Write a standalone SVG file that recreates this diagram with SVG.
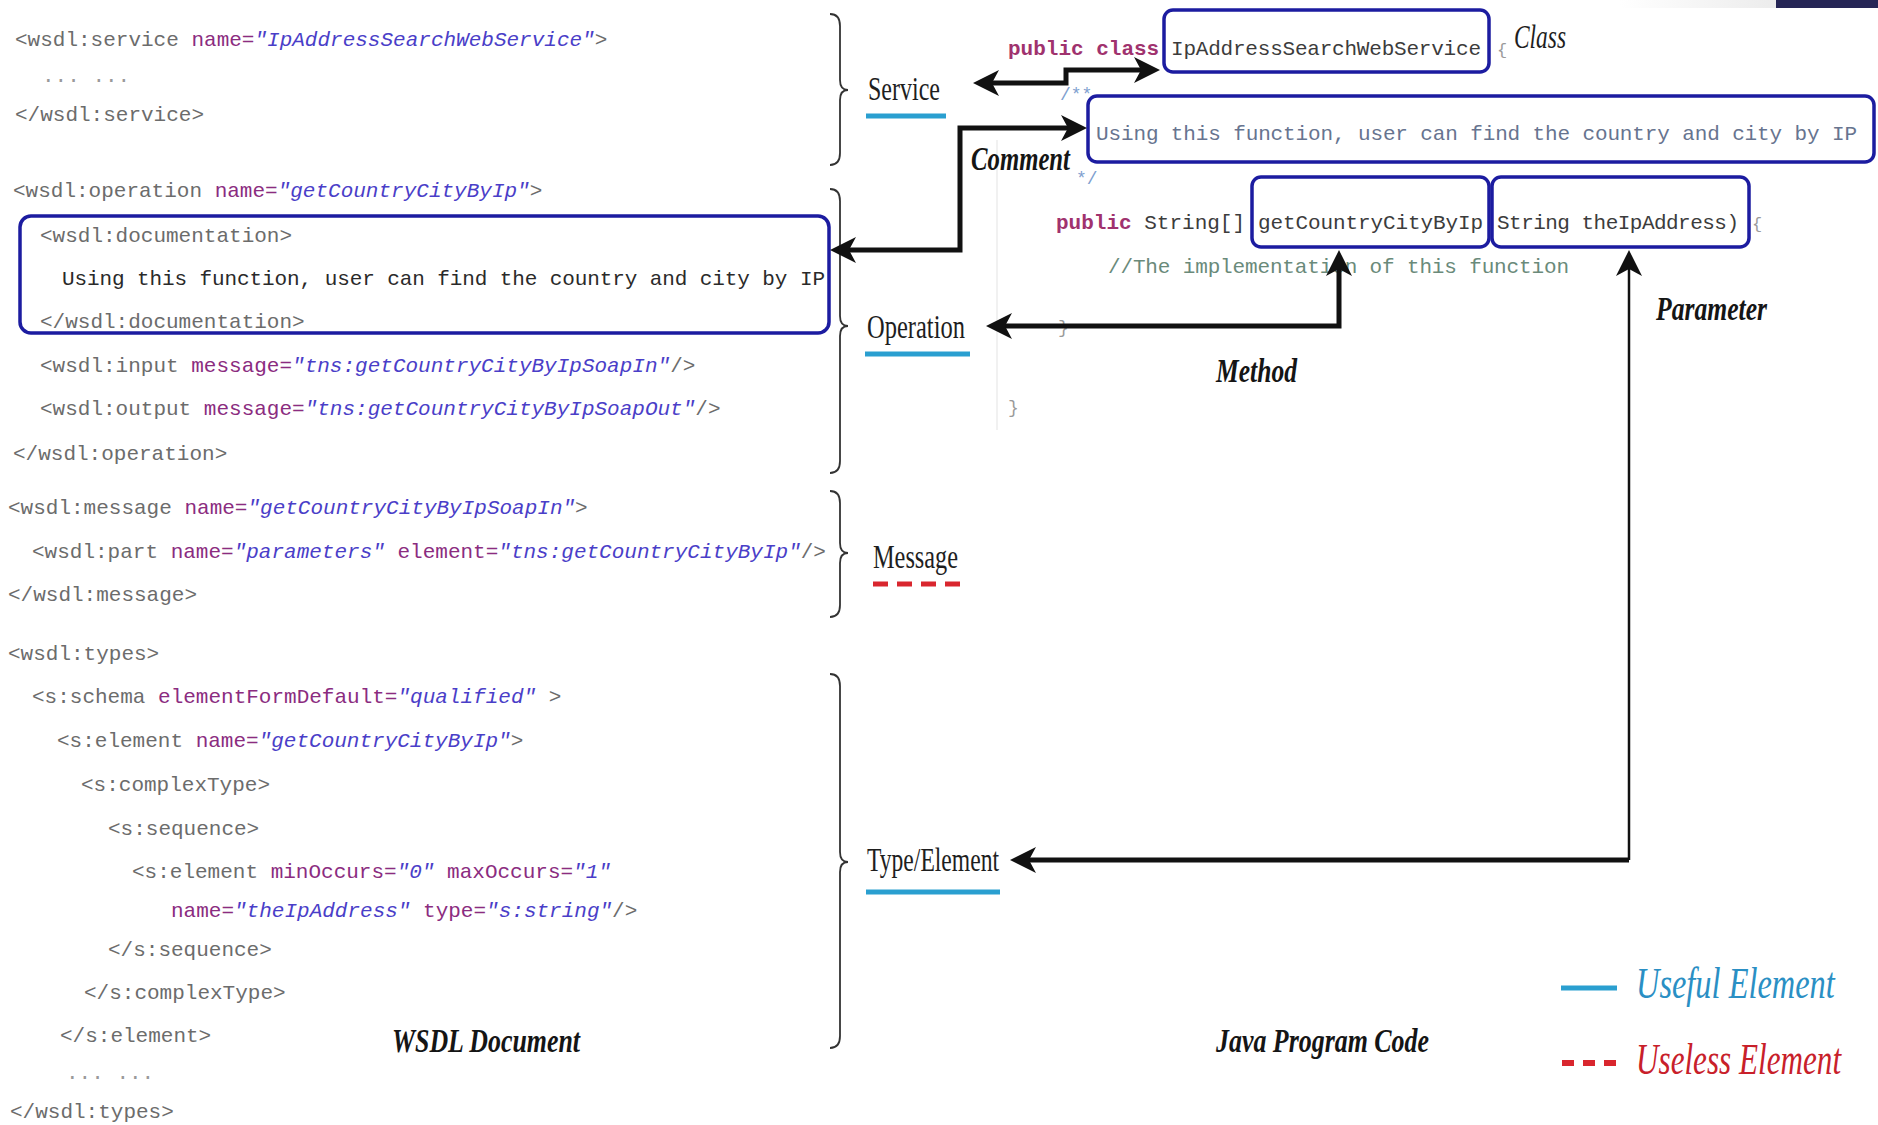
<svg xmlns="http://www.w3.org/2000/svg" width="1878" height="1125" viewBox="0 0 1878 1125">
  <defs>
    <style>
      .code { font-family: "Liberation Mono", "Courier New", monospace; font-size: 21px; }
      .tag { fill: #6c6c6c; }
      .att { fill: #8b2c80; }
      .val { fill: #4a3ec8; font-style: italic; }
      .txt { fill: #2a2a2a; }
      .kw { fill: #a0326e; font-weight: bold; }
      .jv { fill: #3c3c3c; }
      .jcm { fill: #6a8a7a; }
      .jdoc { fill: #7f9fcf; }
      .jtxt { fill: #67748f; }
      .faint { fill: #9a9a9a; }
      .box { fill: none; stroke: #1c1ca0; stroke-width: 3.5; }
      .brace { fill: none; stroke: #333; stroke-width: 1.8; }
      .lbl { font-family: "Liberation Serif", "Times New Roman", serif; font-size: 34px; fill: #1e1e1e; }
      .ital { font-family: "Liberation Serif", "Times New Roman", serif; font-size: 34px; font-style: italic; font-weight: bold; fill: #151515; }
      .legend-txt { font-family: "Liberation Serif", "Times New Roman", serif; font-size: 44px; font-style: italic; }
      .useful { stroke: #2a9fd0; stroke-width: 5; }
      .useless { stroke: #d9262e; stroke-width: 5; stroke-dasharray: 15 9; }
      .conn { fill: none; stroke: #111; stroke-width: 5; }
      .conn-thin { fill: none; stroke: #111; stroke-width: 2.5; }
    </style>
    <marker id="head" viewBox="0 0 26 26" markerUnits="userSpaceOnUse" markerWidth="26" markerHeight="26" refX="12" refY="13" orient="auto-start-reverse">
      <path d="M0,0 L26,13 L0,26 L7,13 z" fill="#111"/>
    </marker>
    <linearGradient id="topfade" x1="0" y1="0" x2="1" y2="0">
      <stop offset="0" stop-color="#ffffff"/>
      <stop offset="1" stop-color="#ececec"/>
    </linearGradient>
  </defs>

  <rect x="0" y="0" width="1878" height="1125" fill="#ffffff"/>
  <!-- corner strip -->
  <rect x="1620" y="0" width="156" height="8" fill="url(#topfade)"/>
  <rect x="1776" y="0" width="102" height="8" fill="#262656"/>

  <!-- WSDL source listing -->
  <g id="wsdl-code" class="code">
    <text x="15" y="46"><tspan class="tag">&lt;wsdl:service </tspan><tspan class="att">name=</tspan><tspan class="val">"IpAddressSearchWebService"</tspan><tspan class="tag">&gt;</tspan></text>
    <text x="42" y="82" class="faint">... ...</text>
    <text x="15" y="121" class="tag">&lt;/wsdl:service&gt;</text>

    <text x="13" y="197"><tspan class="tag">&lt;wsdl:operation </tspan><tspan class="att">name=</tspan><tspan class="val">"getCountryCityByIp"</tspan><tspan class="tag">&gt;</tspan></text>
    <text x="40" y="242" class="tag">&lt;wsdl:documentation&gt;</text>
    <text x="62" y="285" class="txt" textLength="763">Using this function, user can find the country and city by IP</text>
    <text x="40" y="328" class="tag">&lt;/wsdl:documentation&gt;</text>
    <text x="40" y="372"><tspan class="tag">&lt;wsdl:input </tspan><tspan class="att">message=</tspan><tspan class="val">"tns:getCountryCityByIpSoapIn"</tspan><tspan class="tag">/&gt;</tspan></text>
    <text x="40" y="415"><tspan class="tag">&lt;wsdl:output </tspan><tspan class="att">message=</tspan><tspan class="val">"tns:getCountryCityByIpSoapOut"</tspan><tspan class="tag">/&gt;</tspan></text>
    <text x="13" y="460" class="tag">&lt;/wsdl:operation&gt;</text>

    <text x="8" y="514"><tspan class="tag">&lt;wsdl:message </tspan><tspan class="att">name=</tspan><tspan class="val">"getCountryCityByIpSoapIn"</tspan><tspan class="tag">&gt;</tspan></text>
    <text x="32" y="558"><tspan class="tag">&lt;wsdl:part </tspan><tspan class="att">name=</tspan><tspan class="val">"parameters"</tspan><tspan class="att"> element=</tspan><tspan class="val">"tns:getCountryCityByIp"</tspan><tspan class="tag">/&gt;</tspan></text>
    <text x="8" y="601" class="tag">&lt;/wsdl:message&gt;</text>

    <text x="8" y="660" class="tag">&lt;wsdl:types&gt;</text>
    <text x="32" y="703"><tspan class="tag">&lt;s:schema </tspan><tspan class="att">elementFormDefault=</tspan><tspan class="val">"qualified"</tspan><tspan class="tag"> &gt;</tspan></text>
    <text x="57" y="747"><tspan class="tag">&lt;s:element </tspan><tspan class="att">name=</tspan><tspan class="val">"getCountryCityByIp"</tspan><tspan class="tag">&gt;</tspan></text>
    <text x="81" y="791" class="tag">&lt;s:complexType&gt;</text>
    <text x="108" y="835" class="tag">&lt;s:sequence&gt;</text>
    <text x="132" y="878"><tspan class="tag">&lt;s:element </tspan><tspan class="att">minOccurs=</tspan><tspan class="val">"0"</tspan><tspan class="att"> maxOccurs=</tspan><tspan class="val">"1"</tspan></text>
    <text x="171" y="917"><tspan class="att">name=</tspan><tspan class="val">"theIpAddress"</tspan><tspan class="att"> type=</tspan><tspan class="val">"s:string"</tspan><tspan class="tag">/&gt;</tspan></text>
    <text x="108" y="956" class="tag">&lt;/s:sequence&gt;</text>
    <text x="84" y="999" class="tag">&lt;/s:complexType&gt;</text>
    <text x="60" y="1042" class="tag">&lt;/s:element&gt;</text>
    <text x="66" y="1079" class="faint">... ...</text>
    <text x="10" y="1118" class="tag">&lt;/wsdl:types&gt;</text>
  </g>

  <!-- documentation element highlight -->
  <g id="wsdl-doc-box">
    <rect class="box" x="20" y="216" width="809" height="117" rx="11"/>
  </g>

  <!-- section braces -->
  <g id="braces">
    <path class="brace" d="M830,14 Q840,14 840,26 L840,80 Q840,90 848,90 Q840,90 840,100 L840,153 Q840,165 830,165"/>
    <path class="brace" d="M830,189 Q840,189 840,201 L840,316 Q840,326 848,326 Q840,326 840,336 L840,461 Q840,473 830,473"/>
    <path class="brace" d="M830,491 Q840,491 840,503 L840,543 Q840,553 848,553 Q840,553 840,563 L840,605 Q840,617 830,617"/>
    <path class="brace" d="M830,674 Q840,674 840,686 L840,852 Q840,862 848,862 Q840,862 840,872 L840,1036 Q840,1048 830,1048"/>
  </g>

  <!-- Java source listing -->
  <g id="java-code" class="code">
    <line x1="997" y1="140" x2="997" y2="430" stroke="#ececec" stroke-width="1.5"/>
    <text x="1008" y="55"><tspan class="kw">public class</tspan></text>
    <text x="1171" y="55" class="jv" textLength="310">IpAddressSearchWebService</text>
    <text x="1497" y="55" class="faint" font-size="17">{</text>
    <text x="1060" y="100" class="jdoc" font-size="18">/**</text>
    <text x="1096" y="140" class="jtxt" textLength="761">Using this function, user can find the country and city by IP</text>
    <text x="1076" y="184" class="jdoc" font-size="18">*/</text>
    <text x="1056" y="229"><tspan class="kw">public</tspan><tspan class="jv"> String[]</tspan></text>
    <text x="1258" y="229" class="jv" textLength="225">getCountryCityByIp</text>
    <text x="1497" y="229" class="jv" textLength="242">String theIpAddress)</text>
    <text x="1752" y="229" class="faint" font-size="17">{</text>
    <text x="1108" y="273" class="jcm" textLength="461">//The implementation of this function</text>
    <text x="1058" y="333" class="faint" font-size="18">}</text>
    <text x="1008" y="413" class="faint" font-size="18">}</text>
  </g>

  <g id="class-node">
    <rect class="box" x="1164" y="10" width="325" height="62" rx="9"/>
    <text class="lbl" x="1514" y="48" font-style="italic" textLength="52" lengthAdjust="spacingAndGlyphs">Class</text>
  </g>
  <g id="comment-node">
    <rect class="box" x="1088" y="96" width="786" height="66" rx="9"/>
    <text class="ital" transform="translate(971,170) scale(0.75,1)" x="0" y="0" textLength="132" lengthAdjust="spacingAndGlyphs">Comment</text>
  </g>
  <g id="method-node">
    <rect class="box" x="1252" y="177" width="237" height="70" rx="9"/>
    <text class="ital" x="1216" y="382" textLength="81" lengthAdjust="spacingAndGlyphs">Method</text>
  </g>
  <g id="parameter-node">
    <rect class="box" x="1492" y="177" width="257" height="70" rx="9"/>
    <text class="ital" x="1656" y="320" textLength="111" lengthAdjust="spacingAndGlyphs">Parameter</text>
  </g>

  <!-- WSDL element categories -->
  <g id="service-node">
    <text class="lbl" x="868" y="100" textLength="72" lengthAdjust="spacingAndGlyphs">Service</text>
    <line class="useful" x1="866" y1="116" x2="946" y2="116"/>
  </g>
  <g id="operation-node">
    <text class="lbl" x="867" y="338" textLength="98" lengthAdjust="spacingAndGlyphs">Operation</text>
    <line class="useful" x1="865" y1="354" x2="970" y2="354"/>
  </g>
  <g id="message-node">
    <text class="lbl" x="873" y="568" textLength="85" lengthAdjust="spacingAndGlyphs">Message</text>
    <line class="useless" x1="873" y1="584" x2="960" y2="584"/>
  </g>
  <g id="type-element-node">
    <text class="lbl" x="867" y="871" textLength="132" lengthAdjust="spacingAndGlyphs">Type/Element</text>
    <line class="useful" x1="866" y1="892" x2="1000" y2="892"/>
  </g>

  <!-- captions -->
  <g id="captions">
    <text class="ital" x="392" y="1052" textLength="188" lengthAdjust="spacingAndGlyphs">WSDL Document</text>
    <text class="ital" x="1216" y="1052" textLength="213" lengthAdjust="spacingAndGlyphs">Java Program Code</text>
  </g>

  <!-- legend (condensed by a horizontal scale) -->
  <g id="legend">
    <line class="useful" x1="1561" y1="988" x2="1617" y2="988"/>
    <text class="legend-txt" transform="translate(1636,998) scale(0.7,1)" x="0" y="0" fill="#2a8fc4" textLength="284" lengthAdjust="spacingAndGlyphs">Useful Element</text>
    <line x1="1562" y1="1063" x2="1617" y2="1063" stroke="#d9262e" stroke-width="6" stroke-dasharray="12 9"/>
    <text class="legend-txt" transform="translate(1636,1074) scale(0.7,1)" x="0" y="0" fill="#c8202a" textLength="293" lengthAdjust="spacingAndGlyphs">Useless Element</text>
  </g>

  <!-- mapping arrows -->
  <g id="connectors">
    <path class="conn" d="M987,83 H1066 V70 H1146" marker-start="url(#head)" marker-end="url(#head)"/>
    <path class="conn" d="M844,250 H960 V128 H1073" marker-start="url(#head)" marker-end="url(#head)"/>
    <path class="conn" d="M1339,264 V326 H1000" marker-start="url(#head)" marker-end="url(#head)"/>
    <path class="conn-thin" d="M1629,860 V264" marker-end="url(#head)"/>
    <path class="conn" d="M1629,860 H1024" marker-end="url(#head)"/>
  </g>
</svg>
